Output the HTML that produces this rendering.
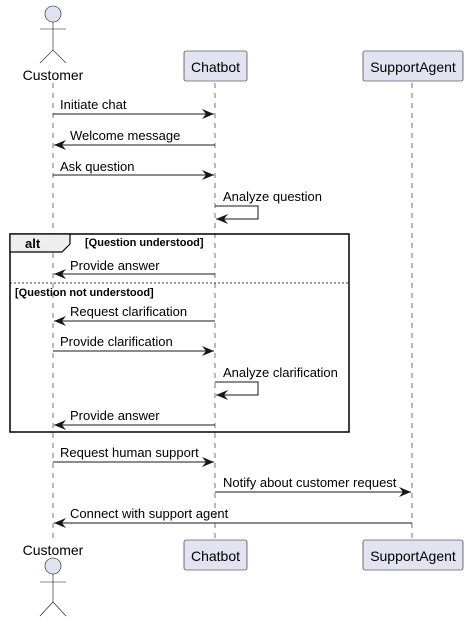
<!DOCTYPE html>
<html><head><style>body{margin:0;background:#fff}svg{display:block}</style></head><body>
<svg width="468" height="622" xmlns="http://www.w3.org/2000/svg" font-family="Liberation Sans, sans-serif">
<defs>
<marker id="a" markerWidth="14" markerHeight="12" refX="12" refY="6" orient="auto" markerUnits="userSpaceOnUse">
<polygon points="0,1 12,6 0,11 4,6" fill="#181818"/>
</marker>
</defs>
<g stroke="#181818" stroke-width="0.6" stroke-dasharray="5,5">
<line x1="53" y1="83" x2="53" y2="538"/>
<line x1="215" y1="83" x2="215" y2="538"/>
<line x1="412" y1="83" x2="412" y2="538"/>
</g>
<g fill="#E2E2F0" stroke="#181818" stroke-width="0.6">
<circle cx="53" cy="14" r="8"/>
<circle cx="53" cy="566" r="8"/>
</g>
<g stroke="#181818" stroke-width="0.6" fill="none">
<path d="M53 22V50M40 29H66M40 63L53 50L66 63"/>
<path d="M53 574V602M40 582H66M40 616L53 602L66 616"/>
</g>
<g font-size="14" fill="#000">
<text x="53" y="80" text-anchor="middle">Customer</text>
<text x="53" y="555" text-anchor="middle">Customer</text>
</g>
<g fill="#E2E2F0" stroke="#181818" stroke-width="0.6">
<rect x="184" y="51" width="63" height="30" rx="2"/>
<rect x="363" y="51" width="100" height="30" rx="2"/>
<rect x="184" y="540" width="63" height="30" rx="2"/>
<rect x="363" y="540" width="100" height="30" rx="2"/>
</g>
<g font-size="14" fill="#000" text-anchor="middle">
<text x="215.5" y="72">Chatbot</text>
<text x="413" y="72">SupportAgent</text>
<text x="215.5" y="561">Chatbot</text>
<text x="413" y="561">SupportAgent</text>
</g>
<rect x="10" y="234" width="339" height="198" fill="none" stroke="#000" stroke-width="1.5"/>
<path d="M10 234H70V244L62 252H10Z" fill="#EEEEEE" stroke="#000" stroke-width="1.2"/>
<text x="25" y="248" font-size="13" font-weight="bold">alt</text>
<text x="85" y="246" font-size="11" font-weight="bold">[Question understood]</text>
<line x1="10" y1="283" x2="349" y2="283" stroke="#000" stroke-width="0.8" stroke-dasharray="2,2"/>
<text x="15" y="296" font-size="11" font-weight="bold">[Question not understood]</text>
<g stroke="#181818" stroke-width="1" fill="none" marker-end="url(#a)">
<line x1="53" y1="114" x2="214" y2="114"/>
<line x1="215" y1="145" x2="54" y2="145"/>
<line x1="53" y1="175" x2="214" y2="175"/>
<polyline points="215,206 258,206 258,219 216,219"/>
<line x1="215" y1="274" x2="54" y2="274"/>
<line x1="215" y1="321" x2="54" y2="321"/>
<line x1="53" y1="351" x2="214" y2="351"/>
<polyline points="215,382 258,382 258,395 216,395"/>
<line x1="215" y1="425" x2="54" y2="425"/>
<line x1="53" y1="462" x2="214" y2="462"/>
<line x1="215" y1="492" x2="411" y2="492"/>
<line x1="412" y1="523" x2="54" y2="523"/>
</g>
<g font-size="13" fill="#000">
<text x="60" y="109">Initiate chat</text>
<text x="70" y="140">Welcome message</text>
<text x="60" y="171">Ask question</text>
<text x="223" y="201">Analyze question</text>
<text x="70" y="270">Provide answer</text>
<text x="70" y="316">Request clarification</text>
<text x="60" y="346">Provide clarification</text>
<text x="223" y="377">Analyze clarification</text>
<text x="70" y="420">Provide answer</text>
<text x="60" y="457">Request human support</text>
<text x="223" y="487">Notify about customer request</text>
<text x="70" y="518">Connect with support agent</text>
</g>
</svg>
</body></html>
